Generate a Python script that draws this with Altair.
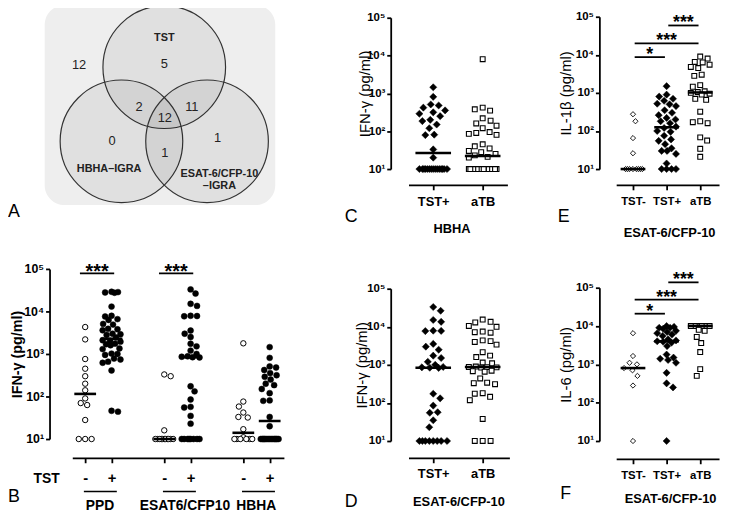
import altair as alt
import numpy as np
import pandas as pd

FONT = "Liberation Sans"

# ---------------- Panel A : Venn diagram ----------------
venn_sets = ["TST", "HBHA–IGRA", "ESAT-6/CFP-10", "–IGRA"]
venn_set_x = [0.0, -0.90, 0.90, 0.90]
venn_set_y = [1.29, -0.86, -0.94, -1.14]
venn_counts = [12, 5, 2, 11, 12, 0, 1, 1]
venn_count_x = [-1.39, 0.0, -0.41, 0.45, 0.01, -0.85, 0.01, 0.87]
venn_count_y = [0.84, 0.85, 0.16, 0.16, -0.03, -0.40, -0.60, -0.35]
circle_angles = [90, 210, 330]
circle_dist = 0.806
frame_x = [-1.95, 1.81]
frame_y = [-1.44, 1.82]

# ---------------- Panel B : IFN-gamma by antigen / TST ----------------
b_antigens = ["PPD", "ESAT6/CFP10", "HBHA"]
b_tst = ["-", "+"]
ppd_neg = [4300, 2200, 760, 450, 300, 200, 140, 90, 70, 63, 28, 10, 10, 10]
ppd_pos = [29000, 28500, 28000, 27500, 13000, 7900, 7600, 6600, 6300, 5100, 4900,
           3900, 3800, 3600, 3000, 2900, 2800, 2450, 2100, 2050, 1950, 1750, 1700,
           1600, 1350, 1300, 1020, 1000, 950, 780, 740, 660, 620, 410, 46, 44]
esat_neg = [330, 300, 16, 10, 10, 10, 10, 10, 10, 10, 10, 10, 10, 10]
esat_pos = [33000, 26300, 15100, 13500, 7900, 7800, 7700, 3550, 3000, 2500, 1740,
            1510, 1200, 1000, 880, 860, 840, 830, 174, 132, 85, 57, 55, 35, 23,
            10, 10, 10, 10, 10, 10, 10, 10]
hbha_neg = [1780, 76, 58, 42, 33, 32, 17, 11, 10, 10, 10, 10, 10, 10]
hbha_pos = [1450, 810, 510, 480, 420, 355, 316, 290, 250, 200, 185, 150, 120, 81,
            79, 33, 20, 10, 10, 10, 10, 10, 10, 10, 10, 10, 10, 10, 10, 10, 10, 10]

# ---------------- Panels C/D : TST+ vs active TB ----------------
cd_groups = ["TST+", "aTB"]
hbha_atb = [8000, 420, 380, 350, 220, 190, 160, 140, 120, 95, 90, 85, 80, 45, 40,
            35, 30, 28, 25, 23, 21, 20, 10, 10, 10, 10, 10, 10, 10, 10, 10, 10, 10,
            10, 10, 10, 10, 10, 10, 10]
esat_atb = [15500, 13500, 13000, 10500, 10000, 7500, 7200, 7000, 4400, 4200, 4000,
            3400, 2150, 1750, 1600, 1150, 1100, 900, 880, 870, 860, 850, 700, 680,
            660, 440, 340, 330, 310, 180, 175, 145, 118, 38, 10, 10, 10]

# ---------------- Panels E/F : cytokines ----------------
ef_groups = ["TST-", "TST+", "aTB"]
il1b_neg = [275, 180, 65, 26, 10, 10, 10, 10, 10, 10, 10, 10]
il1b_pos = [1500, 900, 800, 700, 620, 520, 500, 450, 350, 300, 260, 220, 200, 180,
            160, 130, 120, 100, 95, 75, 60, 55, 45, 35, 30, 30, 25, 14, 10, 10, 10, 10]
il1b_atb = [9000, 8000, 6500, 6300, 5500, 4800, 4500, 3000, 2800, 1600, 1450, 1100,
            1050, 1000, 950, 900, 700, 660, 320, 180, 170, 160, 68, 56, 34, 21]
il6_neg = [6500, 1650, 1100, 1000, 800, 700, 500, 280, 10]
il6_pos = [10000, 9500, 9000, 9000, 8500, 7500, 7000, 6500, 6000, 5500, 4500, 4200,
           4000, 3900, 3700, 3000, 1800, 1500, 1400, 1300, 1100, 600, 320, 250, 10]
il6_atb = [10000, 10000, 10000, 10000, 10000, 10000, 10000, 10000, 10000, 10000,
           8000, 7500, 5200, 3600, 2100, 750, 500]

# significance: (label, group a, group b, level pg/ml)
sig_b = [("***", 0, 1, 79000), ("***", 3, 4, 79000)]
sig_e = [("*", 0, 1, 8700), ("***", 0, 2, 20000), ("***", 1, 2, 59000)]
sig_f = [("*", 0, 1, 21000), ("***", 0, 2, 49000), ("***", 1, 2, 138000)]

STYLES = {
    "open_circle": dict(shape="circle", size=30, fill="white", stroke="black", strokeWidth=1.0),
    "filled_circle": dict(shape="circle", size=36, fill="black", stroke="black", strokeWidth=0.5),
    "filled_diamond": dict(shape="diamond", size=52, fill="black", stroke="black", strokeWidth=0.5),
    "open_square": dict(shape="square", size=24, fill="white", stroke="black", strokeWidth=1.1),
    "open_diamond": dict(shape="diamond", size=28, fill="white", stroke="black", strokeWidth=0.9),
}

SUPER = "['⁰','¹','²','³','⁴','⁵']"
H = 508


def swarm(values, px_dec, px_unit, diam, max_half):
    ys = np.log10(np.asarray(values, float)) * px_dec
    order = np.argsort(-ys, kind="stable")
    placed = []
    out = np.zeros(len(values))
    for n, i in enumerate(order):
        y = ys[i]
        s = 1 if n % 2 else -1
        cands = [0.0]
        k = 0.5
        while k <= max_half + 1e-9:
            cands += [s * k, -s * k]
            k += 0.5
        choice = None
        for c in cands:
            if all((c - px) ** 2 + (y - py) ** 2 >= diam ** 2 for py, px in placed):
                choice = c
                break
        if choice is None:
            choice = max(cands, key=lambda c: (min((c - px) ** 2 + (y - py) ** 2
                                                   for py, px in placed), -abs(c)))
        placed.append((y, choice))
        out[i] = choice / px_unit
    return out


def yaxis(axis_x, title, tsize, tweight, lsize, tpad):
    return alt.Axis(orient="left", offset=-axis_x, values=[10, 100, 1000, 10000, 100000],
                    labelExpr="'10' + " + SUPER + "[round(log(datum.value)/LN10)]",
                    title=title, grid=False, tickSize=4, tickWidth=1.8, tickColor="black",
                    domainColor="black", domainWidth=1.8, labelFont=FONT, labelFontSize=lsize,
                    labelFontWeight="bold", labelColor="black", labelPadding=2,
                    labelFlush=False, labelOverlap=False, titleFont=FONT, titleFontSize=tsize,
                    titleFontWeight=tweight, titleColor="black", titlePadding=tpad)


def xaxis(axis_y, vals, expr, lsize, lpad):
    return alt.Axis(orient="bottom", offset=axis_y - H, values=vals, labelExpr=expr, title=None,
                    grid=False, tickSize=5, tickWidth=1.8, tickColor="black",
                    domainColor="black", domainWidth=1.8, labelFont=FONT, labelFontSize=lsize,
                    labelFontWeight="bold", labelColor="black", labelPadding=lpad,
                    labelFlush=False, labelOverlap=False)


def panel(groups, xdom, xrng, yrng, yax, xax, px_unit, med_len, diam, max_half,
          sig=None, sig_ext=(0.0, 0.0), star_size=18, star_dy=3):
    xs = alt.Scale(domain=xdom, range=xrng, zero=False, nice=False)
    ys = alt.Scale(type="log", domain=[10, 100000], range=yrng, nice=False)
    px_dec = abs(yrng[0] - yrng[1]) / 4.0
    layers = []
    frames = []
    for j, (vals, pos, style) in enumerate(groups):
        offs = swarm(vals, px_dec, px_unit, diam, max_half)
        df = pd.DataFrame({"cat": float(pos), "px": pos + offs, "v": vals})
        frames.append(df)
        st = STYLES[style]
        layers.append(
            alt.Chart(df).mark_point(filled=True, opacity=1, **st).encode(
                x=alt.X("px:Q", scale=xs, axis=xax if j == 0 else None),
                y=alt.Y("v:Q", scale=ys, axis=yax if j == 0 else None),
            )
        )
    alldf = pd.concat(frames, ignore_index=True)
    layers.append(
        alt.Chart(alldf).mark_tick(orient="horizontal", size=med_len, thickness=2.6,
                                   color="black", opacity=1).encode(
            x=alt.X("cat:Q", scale=xs, axis=None),
            y=alt.Y("median(v):Q", scale=ys, axis=None),
        )
    )
    if sig:
        sdf = pd.DataFrame({
            "lab": [s[0] for s in sig],
            "x1": [s[1] + sig_ext[0] for s in sig],
            "x2": [s[2] + sig_ext[1] for s in sig],
            "y": [s[3] for s in sig],
        })
        sdf["xm"] = (sdf["x1"] + sdf["x2"]) / 2
        layers.append(alt.Chart(sdf).mark_rule(color="black", strokeWidth=1.8).encode(
            x=alt.X("x1:Q", scale=xs, axis=None), x2="x2:Q",
            y=alt.Y("y:Q", scale=ys, axis=None)))
        layers.append(alt.Chart(sdf).mark_text(font=FONT, fontSize=star_size, fontWeight="bold",
                                               baseline="alphabetic", dy=star_dy,
                                               color="black").encode(
            x=alt.X("xm:Q", scale=xs, axis=None), y=alt.Y("y:Q", scale=ys, axis=None),
            text="lab:N"))
    return layers, xs


def text_layer(texts, xs_, ys_, size, weight="normal", angle=0):
    df = pd.DataFrame({"t": texts, "x": xs_, "y": ys_})
    return alt.Chart(df).mark_text(font=FONT, fontSize=size, fontWeight=weight, angle=angle,
                                   align="center", baseline="middle", color="black").encode(
        x=alt.X("x:Q", scale=None, axis=None), y=alt.Y("y:Q", scale=None, axis=None),
        text="t:N")


layers = []

# ---- Panel A ----
vx = alt.Scale(domain=[-1, 1], range=[96, 220], zero=False, nice=False)
vy = alt.Scale(domain=[-1, 1], range=[169, 45], zero=False, nice=False)
unit_px = (220 - 96) / 2
frame_df = pd.DataFrame({"x1": [frame_x[0]], "x2": [frame_x[1]], "y1": [frame_y[0]], "y2": [frame_y[1]]})
layers.append(alt.Chart(frame_df).mark_rect(cornerRadius=20, color="#eeeeee").encode(
    x=alt.X("x1:Q", scale=vx, axis=None), x2="x2:Q",
    y=alt.Y("y1:Q", scale=vy, axis=None), y2="y2:Q"))
circ_df = pd.DataFrame({
    "set": venn_sets[:3],
    "cx": [circle_dist * np.cos(np.radians(a)) for a in circle_angles],
    "cy": [circle_dist * np.sin(np.radians(a)) for a in circle_angles],
})
layers.append(alt.Chart(circ_df).mark_point(shape="circle", filled=True, fill="black",
                                           fillOpacity=0.055, stroke="#333333", strokeWidth=1.2,
                                           strokeOpacity=1, size=(2 * unit_px) ** 2).encode(
    x=alt.X("cx:Q", scale=vx, axis=None), y=alt.Y("cy:Q", scale=vy, axis=None)))
cnt_df = pd.DataFrame({"n": [str(c) for c in venn_counts], "x": venn_count_x, "y": venn_count_y})
layers.append(alt.Chart(cnt_df).mark_text(font=FONT, fontSize=13, color="#222222").encode(
    x=alt.X("x:Q", scale=vx, axis=None), y=alt.Y("y:Q", scale=vy, axis=None), text="n:N"))
set_df = pd.DataFrame({"t": venn_sets, "x": venn_set_x, "y": venn_set_y})
layers.append(alt.Chart(set_df).mark_text(font=FONT, fontSize=11, fontWeight="bold",
                                         color="#222222").encode(
    x=alt.X("x:Q", scale=vx, axis=None), y=alt.Y("y:Q", scale=vy, axis=None), text="t:N"))

# ---- Panel B ----
b_groups = [(ppd_neg, 0, "open_circle"), (ppd_pos, 1, "filled_circle"),
            (esat_neg, 3, "open_circle"), (esat_pos, 4, "filled_circle"),
            (hbha_neg, 6, "open_circle"), (hbha_pos, 7, "filled_circle")]
b_expr = "[" + ",".join("'%s'" % t for t in b_tst) + "][datum.value % 3]"
bl, xsB = panel(b_groups, [-0.49, 7.54], [65, 279], [433, 261],
                yaxis(42, "IFN-γ (pg/ml)", 14.5, "bold", 12.5, -1),
                xaxis(452, [0, 1, 3, 4, 6, 7], b_expr, 15, 8),
                26.65, 22, 6.5, 9, sig=sig_b, sig_ext=(-0.2, 0.1), star_size=20, star_dy=5)
layers += bl
ul_df = pd.DataFrame({"g": b_antigens, "x1": [3 * g - 0.05 for g in range(3)],
                      "x2": [3 * g + 1.2 for g in range(3)]})
layers.append(alt.Chart(ul_df).mark_rule(color="black", strokeWidth=1.5).encode(
    x=alt.X("x1:Q", scale=xsB, axis=None), x2="x2:Q", y=alt.value(486)))

# ---- Panel C ----
cd_expr = "[" + ",".join("'%s'" % t for t in cd_groups) + "][datum.value]"
cl, _ = panel([(hbha_pos, 0, "filled_diamond"), (hbha_atb, 1, "open_square")],
              [-0.5, 1.5], [405, 505], [160, 7],
              yaxis(387, "IFN-γ (pg/ml)", 15, "normal", 11.5, -6),
              xaxis(176, [0, 1], cd_expr, 13, 6),
              50, 36, 8, 14)
layers += cl

# ---- Panel D ----
dl, _ = panel([(esat_pos, 0, "filled_diamond"), (esat_atb, 1, "open_square")],
              [-0.5, 1.54], [405, 507], [435, 281],
              yaxis(387, "IFN-γ (pg/ml)", 15, "normal", 11.5, -3),
              xaxis(452, [0, 1], cd_expr, 13, 5),
              50, 36, 8, 14)
layers += dl

# ---- Panel E ----
ef_expr = "[" + ",".join("'%s'" % t for t in ef_groups) + "][datum.value]"
el, _ = panel([(il1b_neg, 0, "open_diamond"), (il1b_pos, 1, "filled_diamond"),
               (il1b_atb, 2, "open_square")],
              [-0.5, 2.56], [615, 719], [160, 6],
              yaxis(598, "IL-1β (pg/ml)", 15, "normal", 11.5, 2),
              xaxis(176, [0, 1, 2], ef_expr, 11.5, 6),
              34, 25, 7.5, 9.5, sig=sig_e, sig_ext=(0.05, -0.05), star_size=18, star_dy=3)
layers += el

# ---- Panel F ----
fl, _ = panel([(il6_neg, 0, "open_diamond"), (il6_pos, 1, "filled_diamond"),
               (il6_atb, 2, "open_square")],
              [-0.5, 2.56], [615, 719], [435, 280],
              yaxis(598, "IL-6 (pg/ml)", 15, "normal", 11.5, 2),
              xaxis(453, [0, 1, 2], ef_expr, 11.5, 6),
              34, 25, 7.5, 9.5, sig=sig_f, sig_ext=(0.05, -0.05), star_size=18, star_dy=3)
layers += fl

# ---- annotations (panel letters and group titles) ----
layers.append(text_layer(["A", "B", "C", "D", "E", "F"],
                         [6, 6, 347, 347, 562, 564], [204, 492, 209, 497, 209, 489], 18))
layers.append(text_layer(["TST"] + b_antigens, [39, 93, 179, 251], [473, 501, 501, 501], 14, "bold"))
layers.append(text_layer(["HBHA", "ESAT-6/CFP-10", "ESAT-6/CFP-10", "ESAT-6/CFP-10"],
                         [449, 669, 456, 670], [221, 225, 497, 494], 13, "bold"))

chart = alt.layer(*layers).resolve_scale(x="independent", y="independent").properties(
    width=722, height=H, padding=0, autosize=alt.AutoSizeParams(type="none"),
    background="white",
).configure_view(stroke=None)

chart.save("out.html", embed_options={"renderer": "svg", "actions": False})
